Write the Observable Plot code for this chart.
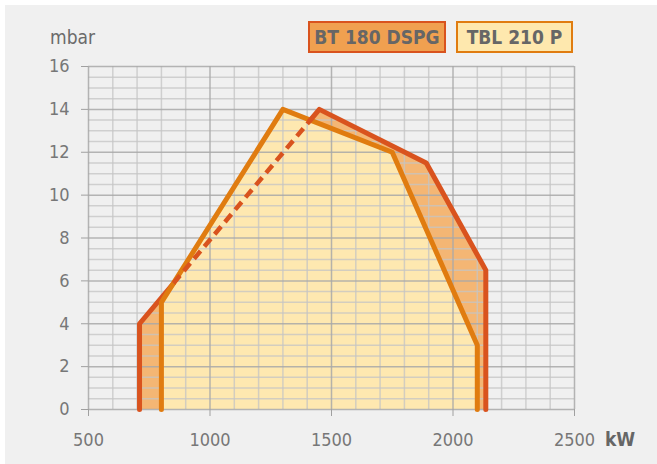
<!DOCTYPE html>
<html>
<head>
<meta charset="utf-8">
<script src="https://cdn.jsdelivr.net/npm/d3@7"></script>
<script src="https://cdn.jsdelivr.net/npm/@observablehq/plot@0.6"></script>
<style>
  html, body { margin: 0; padding: 0; background: #ffffff; }
  #wrap { position: relative; width: 657px; height: 464px; overflow: hidden; background: #ffffff; }
  #chart { position: absolute; left: 5px; top: 5px; }
  .lab { position: absolute; font-family: "DejaVu Sans Condensed", "DejaVu Sans", sans-serif; color: #6a6a6a; }
  .box { position: absolute; box-sizing: border-box; height: 32px; top: 21px; border: 2px solid; font-weight: bold; font-size: 19px; line-height: 28px; text-align: center; font-family: "DejaVu Sans Condensed", "DejaVu Sans", sans-serif; color: #666; }
</style>
</head>
<body>
<div id="wrap">
  <div id="chart"></div>
  <div class="lab" style="left:50px; top:26px; font-size:19px;">mbar</div>
  <div class="lab" style="left:605px; top:428px; font-size:19px; font-weight:bold; color:#666;">kW</div>
  <div class="box" style="left:308px; width:138px; background:#f0a050; border-color:#d9531e;">BT 180 DSPG</div>
  <div class="box" style="left:456px; width:117px; background:#fee8ae; border-color:#e07c10;">TBL 210 P</div>
</div>
<script>
// Series names
const seriesNames = ["BT 180 DSPG", "TBL 210 P"];

// BT 180 DSPG working range (kW, mbar)
const btKW   = [710, 710, 1450, 1890, 2135, 2135];
const btMbar = [0,   4,   14,   11.5, 6.5,  0];
// portion of the BT outline that runs inside the TBL area (dashed)
const btDashKW   = [850, 1410];
const btDashMbar = [5.89, 13.46];

// TBL 210 P working range (kW, mbar)
const tblKW   = [800, 800, 1300, 1750, 2100, 2100];
const tblMbar = [0,   5,   14,   12,   3,    0];

// Axis ticks
const xTicks = [500, 1000, 1500, 2000, 2500];
const yTicks = [0, 2, 4, 6, 8, 10, 12, 14, 16];

const bt  = btKW.map((x, i) => ({x, y: btMbar[i]}));
const tbl = tblKW.map((x, i) => ({x, y: tblMbar[i]}));
const btDash = btDashKW.map((x, i) => ({x, y: btDashMbar[i]}));
// solid parts of the BT outline: before and after the dashed stretch
const btSolidA = [bt[0], bt[1], btDash[0]];
const btSolidB = [btDash[1], ...bt.slice(2)];

const minorX = d3.range(500, 2501, 100).filter(v => !xTicks.includes(v));
const minorY = d3.range(0, 16.01, 0.5).filter(v => !yTicks.includes(v));

const RED = "#d9531e", ORANGE = "#e07c10";
const lineOpts = {x: "x", y: "y", strokeWidth: 5, strokeLinecap: "round", strokeLinejoin: "round", curve: "linear"};

const chart = Plot.plot({
  width: 652,
  height: 459,
  marginLeft: 83,
  marginRight: 83,
  marginTop: 61,
  marginBottom: 55,
  x: {domain: [500, 2500]},
  y: {domain: [0, 16]},
  style: {background: "#f0f0f0", fontFamily: "'DejaVu Sans Condensed', 'DejaVu Sans', sans-serif", fontSize: "18px", color: "#777"},
  marks: [
    Plot.areaY(bt.slice(1, 5), {x: "x", y: "y", fill: "#f4b674"}),
    Plot.areaY(tbl.slice(1, 5), {x: "x", y: "y", fill: "#fee8b0"}),
    Plot.ruleX(minorX, {stroke: "#c4c4c4", strokeWidth: 1.5, strokeOpacity: 0.75}),
    Plot.ruleY(minorY, {stroke: "#c4c4c4", strokeWidth: 1.5, strokeOpacity: 0.75}),
    Plot.ruleX(xTicks, {stroke: "#a8a8a8", strokeWidth: 1.5, strokeOpacity: 0.85}),
    Plot.ruleY(yTicks, {stroke: "#a8a8a8", strokeWidth: 1.5, strokeOpacity: 0.85}),
    Plot.axisY({ticks: yTicks, tickSize: 7, tickPadding: 12, tickFormat: d => String(d), fontSize: 18, stroke: "#a0a0a0", label: null, fill: "#777"}),
    Plot.axisX({ticks: xTicks, tickSize: 7, tickPadding: 17, tickFormat: d => String(d), fontSize: 18, stroke: "#a0a0a0", label: null, fill: "#777"}),
    Plot.line(btSolidA, {...lineOpts, stroke: RED}),
    Plot.line(tbl, {...lineOpts, stroke: ORANGE}),
    Plot.line(btDash, {...lineOpts, stroke: RED, strokeWidth: 4.5, strokeLinecap: "butt", strokeDasharray: "10,6"}),
    Plot.line(btSolidB, {...lineOpts, stroke: RED})
  ]
});
document.getElementById("chart").appendChild(chart);
</script>
</body>
</html>
